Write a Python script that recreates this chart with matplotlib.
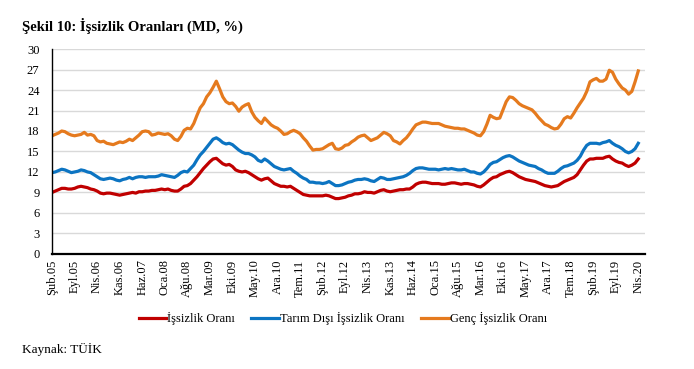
import numpy as np
import matplotlib
matplotlib.use("Agg")
import matplotlib.pyplot as plt

plt.rcParams["font.family"] = ["Liberation Serif", "DejaVu Serif"]

# monthly, Şub.05 .. Nis.20
issizlik = [
    9.0, 9.2, 9.4, 9.6, 9.6, 9.5, 9.5, 9.6, 9.8, 9.9, 9.8,
    9.7, 9.5, 9.4, 9.2, 8.9, 8.8, 8.9, 8.9, 8.8, 8.7, 8.6, 8.7,
    8.8, 8.9, 9.0, 8.9, 9.1, 9.1, 9.2, 9.2, 9.3, 9.3, 9.4, 9.5,
    9.4, 9.5, 9.3, 9.2, 9.2, 9.5, 9.9, 10.0, 10.3, 10.8, 11.3, 11.9,
    12.5, 13.0, 13.5, 13.9, 14.0, 13.6, 13.2, 13.0, 13.1, 12.8, 12.3, 12.1,
    12.0, 12.1, 11.9, 11.6, 11.3, 11.0, 10.8, 11.0, 11.1, 10.7, 10.3, 10.1,
    9.9, 9.9, 9.8, 9.9, 9.6, 9.3, 9.0, 8.7, 8.6, 8.5, 8.5, 8.5,
    8.5, 8.5, 8.6, 8.5, 8.3, 8.1, 8.1, 8.2, 8.3, 8.5, 8.6, 8.8,
    8.8, 8.9, 9.1, 9.0, 9.0, 8.9, 9.1, 9.3, 9.4, 9.2, 9.1, 9.2,
    9.3, 9.4, 9.4, 9.5, 9.5, 9.8, 10.2, 10.4, 10.5, 10.5, 10.4, 10.3,
    10.3, 10.3, 10.2, 10.2, 10.3, 10.4, 10.4, 10.3, 10.2, 10.3, 10.3, 10.2,
    10.1, 9.9, 9.8, 10.1, 10.5, 10.9, 11.2, 11.3, 11.6, 11.8, 12.0, 12.1,
    11.9, 11.6, 11.3, 11.1, 10.9, 10.8, 10.7, 10.6, 10.4, 10.2, 10.0, 9.9,
    9.8, 9.9, 10.0, 10.3, 10.6, 10.8, 11.0, 11.2, 11.6, 12.3, 13.0, 13.6,
    13.9, 13.9, 14.0, 14.0, 14.0, 14.2, 14.3, 13.9, 13.6, 13.4, 13.3, 13.0,
    12.8, 13.0, 13.3, 13.9,
]

tarim_disi = [
    11.9, 12.0, 12.2, 12.4, 12.3, 12.1, 11.9, 12.0, 12.1, 12.3, 12.2,
    12.0, 11.9, 11.6, 11.3, 11.0, 10.9, 11.0, 11.1, 11.0, 10.8, 10.7, 10.9,
    11.0, 11.2, 11.0, 11.2, 11.3, 11.3, 11.2, 11.3, 11.3, 11.3, 11.4, 11.6,
    11.5, 11.4, 11.3, 11.2, 11.5, 11.9, 12.1, 12.0, 12.5, 13.0, 13.8, 14.5,
    15.0, 15.6, 16.2, 16.8, 17.0, 16.7, 16.3, 16.1, 16.2, 16.0, 15.6, 15.2,
    14.9, 14.7, 14.7, 14.5, 14.2, 13.7, 13.5, 13.9, 13.6, 13.2, 12.8, 12.6,
    12.4, 12.3, 12.4, 12.5, 12.1, 11.8, 11.4, 11.1, 10.9, 10.5, 10.5, 10.4,
    10.4, 10.3, 10.4, 10.6, 10.3, 10.0, 10.0, 10.1, 10.3, 10.5, 10.6, 10.8,
    10.9, 10.9, 11.0, 10.9, 10.7, 10.6, 10.9, 11.2, 11.1, 10.9, 10.9, 11.0,
    11.1, 11.2, 11.3, 11.5, 11.8, 12.2, 12.5, 12.6, 12.6, 12.5, 12.4, 12.4,
    12.4, 12.3, 12.4, 12.5, 12.4, 12.5, 12.4, 12.3, 12.3, 12.4, 12.2, 12.0,
    12.0, 11.8, 11.7, 12.0, 12.5, 13.1, 13.4, 13.5, 13.8, 14.1, 14.3, 14.4,
    14.2, 13.9, 13.6, 13.4, 13.2, 13.0, 12.9, 12.8, 12.5, 12.3, 12.0, 11.8,
    11.8, 11.8, 12.1, 12.5, 12.8, 12.9, 13.1, 13.3, 13.7, 14.3, 15.2, 15.9,
    16.2, 16.2, 16.2, 16.1, 16.3, 16.4, 16.6, 16.2, 15.9, 15.7, 15.4, 15.0,
    14.8, 15.0, 15.4, 16.2,
]

genc = [
    17.3, 17.5, 17.7, 18.0, 17.9, 17.6, 17.4, 17.3, 17.4, 17.5, 17.8,
    17.4, 17.5, 17.3, 16.6, 16.4, 16.5, 16.2, 16.1, 16.0, 16.2, 16.4, 16.3,
    16.5, 16.8, 16.6, 17.0, 17.4, 17.9, 18.0, 17.9, 17.4, 17.5, 17.7, 17.6,
    17.5, 17.6, 17.3, 16.8, 16.6, 17.2, 18.1, 18.4, 18.3, 19.1, 20.3, 21.4,
    22.0, 23.0, 23.6, 24.4, 25.3, 24.2, 23.0, 22.3, 22.0, 22.1, 21.6, 20.9,
    21.5, 21.8, 22.0, 20.8, 20.0, 19.5, 19.1, 19.9, 19.4, 18.9, 18.6, 18.4,
    18.0, 17.5, 17.6, 17.9, 18.1, 17.9, 17.6, 17.0, 16.5, 15.8, 15.2, 15.3,
    15.3, 15.4, 15.7, 16.0, 16.2, 15.4, 15.3, 15.5, 15.9, 16.0, 16.4, 16.7,
    17.1, 17.3, 17.4, 17.0, 16.6, 16.8, 17.0, 17.4, 17.8, 17.6, 17.3, 16.6,
    16.4, 16.1, 16.6, 17.0, 17.6, 18.3, 18.9, 19.1, 19.3, 19.3, 19.2, 19.1,
    19.1, 19.1, 18.9, 18.7, 18.6, 18.5, 18.4, 18.4, 18.3, 18.3, 18.1, 17.9,
    17.7, 17.4, 17.3, 17.9, 19.0, 20.3, 20.0, 19.8, 19.9, 21.1, 22.3, 23.0,
    22.9, 22.5, 22.0, 21.7, 21.5, 21.3, 21.1, 20.6, 20.0, 19.5, 19.0, 18.8,
    18.5, 18.3, 18.4, 19.0, 19.8, 20.1, 19.9, 20.6, 21.4, 22.1, 22.8, 23.8,
    25.2, 25.5, 25.7, 25.3, 25.3, 25.6, 26.9, 26.6, 25.6, 24.9, 24.3, 24.0,
    23.4, 23.8, 25.2, 26.8,
]

tick_labels = ["Şub.05", "Eyl.05", "Nis.06", "Kas.06", "Haz.07", "Oca.08", "Ağu.08",
               "Mar.09", "Eki.09", "May.10", "Ara.10", "Tem.11", "Şub.12", "Eyl.12",
               "Nis.13", "Kas.13", "Haz.14", "Oca.15", "Ağu.15", "Mar.16", "Eki.16",
               "May.17", "Ara.17", "Tem.18", "Şub.19", "Eyl.19", "Nis.20"]

x = np.arange(len(issizlik))

fig = plt.figure(figsize=(6.94, 3.69), dpi=100)
ax = fig.add_axes([0.075, 0.312, 0.854, 0.555])

ax.plot(x, issizlik, color="#C00000", lw=2.3, label="İşsizlik Oranı")
ax.plot(x, tarim_disi, color="#0C74C2", lw=2.3, label="Tarım Dışı İşsizlik Oranı")
ax.plot(x, genc, color="#E57A1E", lw=2.3, label="Genç İşsizlik Oranı")

ax.set_ylim(0, 30)
ax.set_yticks(range(0, 31, 3))
ax.set_xlim(0, 184)
ax.set_xticks(x[::7])
ax.set_xticklabels(tick_labels, rotation=90)
ax.tick_params(axis="both", length=0, labelsize=9)
ax.tick_params(axis="x", pad=4)
ax.tick_params(axis="y", pad=9)
ax.grid(axis="y", color="#d9d9d9", lw=1)
ax.set_axisbelow(True)
for s in ["top", "right"]:
    ax.spines[s].set_visible(False)
ax.spines["left"].set_linewidth(1.0)
ax.spines["bottom"].set_linewidth(1.6)

fig.legend(loc="center", bbox_to_anchor=(0.494, 0.136), ncol=3, frameon=False,
           fontsize=9, handlelength=2.2, handletextpad=0.1, columnspacing=1.3)

fig.text(0.032, 0.93, "Şekil 10: İşsizlik Oranları (MD, %)", fontsize=10.5,
         fontweight="bold", va="center")
fig.text(0.032, 0.052, "Kaynak: TÜİK", fontsize=9.5, va="center")

fig.savefig("out.png", dpi=100)
